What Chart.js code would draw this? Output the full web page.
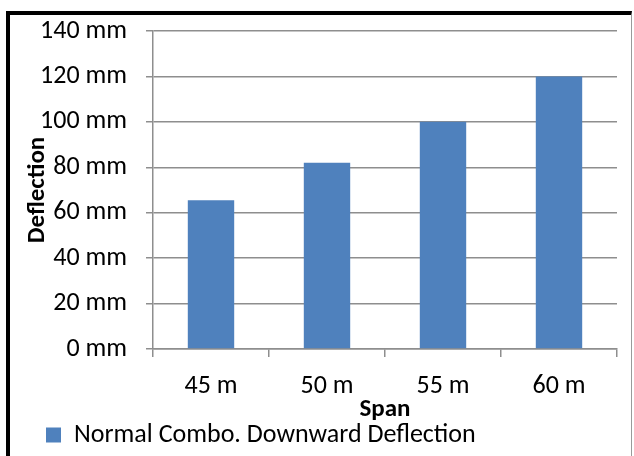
<!DOCTYPE html>
<html>
<head>
<meta charset="utf-8">
<script src="https://cdn.jsdelivr.net/npm/chart.js@4"></script>
<style>
  html, body { margin: 0; padding: 0; background: #fff; }
  #wrap { position: relative; width: 634px; height: 456px; overflow: hidden; }
  #frame {
    position: absolute; left: 6px; top: 11px; width: 621px; height: 460px;
    border-left: 4px solid #000; border-top: 4px solid #000; border-right: 1px solid #9a9a9a;
  }
  #chart { position: absolute; left: 0; top: 0; }
</style>
</head>
<body>
<div id="wrap">
  <div id="frame"></div>
  <canvas id="chart" width="634" height="456"></canvas>
</div>
<script>
// Span lengths and their downward deflection under the normal load combination
const spans = ['45 m', '50 m', '55 m', '60 m'];
const deflection = [65.5, 82, 100, 120];
const seriesName = 'Normal Combo. Downward Deflection';
const yTicks = [0, 20, 40, 60, 80, 100, 120, 140];

const FONT = "Calibri, Carlito, 'Open Sans', sans-serif";
const GRID = '#8e8e8e';

// move the legend row in from the left edge of the frame
const legendIndent = {
  id: 'legendIndent',
  afterLayout(chart) {
    const lg = chart.legend;
    if (lg) { lg.left += 46; lg.right += 46; lg.top += 2; lg.bottom += 2; }
  }
};

new Chart(document.getElementById('chart'), {
  type: 'bar',
  data: {
    labels: spans,
    datasets: [{
      label: seriesName,
      data: deflection,
      backgroundColor: '#4F81BD',
      borderWidth: 0,
      barPercentage: 0.4,
      categoryPercentage: 1.0
    }]
  },
  options: {
    responsive: false,
    animation: false,
    devicePixelRatio: 1,
    layout: { padding: { top: 31, right: 17, left: 0, bottom: 0 } },
    plugins: {
      tooltip: { enabled: false },
      legend: {
        position: 'bottom',
        align: 'start',
        labels: {
          padding: 0,
          boxWidth: 15,
          boxHeight: 15,
          color: '#000',
          font: { family: FONT, size: 26 }
        }
      }
    },
    scales: {
      x: {
        grid: { display: true, drawOnChartArea: false, offset: true, color: GRID, tickLength: 8, lineWidth: 1.5 },
        border: { color: GRID, width: 1.5 },
        ticks: { color: '#000', padding: 14, font: { family: FONT, size: 26 } },
        title: { display: true, text: 'Span', color: '#000', padding: { top: 0, bottom: 0 }, font: { family: FONT, size: 25, weight: 'bold', lineHeight: 0.8 } },
        afterFit(scale) { scale.height = 71; }
      },
      y: {
        min: 0,
        max: 140,
        afterBuildTicks(scale) { scale.ticks = yTicks.map(v => ({ value: v })); },
        grid: { color: GRID, tickLength: 7, lineWidth: 1.5 },
        border: { color: GRID, width: 1.5 },
        ticks: {
          color: '#000', padding: 19,
          font: { family: FONT, size: 26 },
          callback: v => v + ' mm'
        },
        title: { display: true, text: 'Deflection', color: '#000', padding: { top: 23, bottom: 0 }, font: { family: FONT, size: 25, weight: 'bold' } },
        afterFit(scale) {
          scale.width = 153;
          scale.paddingTop = 16;
          scale.paddingBottom = 16;
        }
      }
    }
  },
  plugins: [legendIndent]
});
</script>
</body>
</html>
